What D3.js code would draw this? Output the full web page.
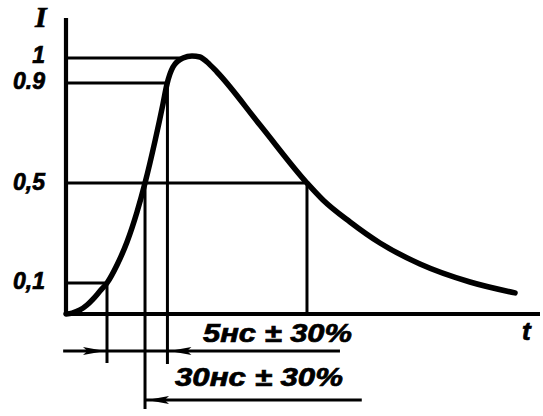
<!DOCTYPE html>
<html>
<head>
<meta charset="utf-8">
<script src="https://cdn.jsdelivr.net/npm/d3@7"></script>
<style>
  html, body { margin: 0; padding: 0; background: #fff; }
  svg { display: block; }
  text { font-family: "Liberation Sans", Arial, sans-serif; font-weight: bold; font-style: italic; fill: #000; stroke: #000; stroke-width: 0.7; }
</style>
</head>
<body>
<svg id="chart" width="543" height="416"></svg>
<script>
// ---- data (arbitrary time units, relative current I) ----
const tValues = [0, 1.27, 2.95, 4.43, 5.7, 7.17, 8.65, 10.76, 12.87, 14.98, 16.67, 18.78, 20.46, 21.31, 22.57, 24.68, 26.58, 28.27, 29.75, 31.86, 40.93, 50.84, 54.22, 59.92, 66.24, 74.68, 85.23, 94.73];
const iValues = [0, 0.003, 0.013, 0.029, 0.048, 0.074, 0.1, 0.172, 0.264, 0.384, 0.5, 0.668, 0.816, 0.896, 0.964, 1.0, 1.008, 1.004, 0.984, 0.944, 0.732, 0.5, 0.432, 0.344, 0.26, 0.176, 0.104, 0.068];
const yTickValues = [1, 0.9, 0.5, 0.1];
const yTickLabels = ["1", "0.9", "0,5", "0,1"];
// characteristic time points: crossing 0.1, 0.5 (rise), 0.9, peak, 0.5 (fall)
const t01 = 8.65, t05 = 16.67, t09 = 21.4, tPeak = 25, t05b = 50.84;
const dimLabels = ["5нс ± 30%", "30нс ± 30%"];
const axisLabels = { y: "I", x: "t" };

const svg = d3.select("#chart");
const x = d3.scaleLinear().domain([0, 100]).range([66, 540]);
const y = d3.scaleLinear().domain([0, 0.1, 1]).range([314, 283, 58]);
const yTop = 1.16;

// axes
svg.append("line").attr("x1", x(0)).attr("x2", x(0)).attr("y1", y(0) + 1).attr("y2", y(yTop))
  .attr("stroke", "#000").attr("stroke-width", 4.2);
svg.append("line").attr("x1", x(0) - 2).attr("x2", x(100)).attr("y1", y(0)).attr("y2", y(0))
  .attr("stroke", "#000").attr("stroke-width", 3.8);

const thin = (x1, y1, x2, y2) => svg.append("line")
  .attr("x1", x1).attr("y1", y1).attr("x2", x2).attr("y2", y2)
  .attr("stroke", "#000").attr("stroke-width", 3);

// horizontal level lines
thin(x(0), y(1), x(tPeak), y(1));
thin(x(0), y(0.9), x(t09), y(0.9));
thin(x(0), y(0.5), x(t05b), y(0.5));
thin(x(0), y(0.1), x(t01), y(0.1));

// vertical extension lines
const row1 = y(0) + 37, row2 = y(0) + 86;
thin(x(t01), y(0.1), x(t01), row1 + 12);
thin(x(t05), y(0.5), x(t05), row2 + 9);
thin(x(t09), y(0.9), x(t09), row1 + 13);
thin(x(t05b), y(0.5), x(t05b), y(0));

// dimension lines
thin(x(-0.6), row1, x(57.8), row1);
thin(x(t05), row2, x(62.4), row2);

// arrowheads (tip at x0, pointing in direction dir)
function arrow(x0, yy, dir) {
  const len = 22, hw = 4;
  const p = d3.path();
  p.moveTo(x0, yy);
  p.lineTo(x0 - dir * len, yy - hw);
  p.lineTo(x0 - dir * len * 0.8, yy);
  p.lineTo(x0 - dir * len, yy + hw);
  p.closePath();
  svg.append("path").attr("d", p.toString()).attr("fill", "#000");
}
arrow(x(t01) - 2, row1, 1);
arrow(x(t09) + 2, row1, -1);
arrow(x(t05) + 2, row2, -1);

// pulse curve
const pts = tValues.map((t, i) => [t, iValues[i]]);
const line = d3.line().x(d => x(d[0])).y(d => y(d[1])).curve(d3.curveMonotoneX);
svg.append("path").datum(pts).attr("d", line)
  .attr("fill", "none").attr("stroke", "#000").attr("stroke-width", 5.5)
  .attr("stroke-linecap", "round").attr("stroke-linejoin", "round");

// tick labels
const lblOffsets = [5, 6, 7, 6];
yTickValues.forEach((v, i) => {
  svg.append("text").attr("x", 45).attr("y", y(v) + lblOffsets[i])
    .attr("text-anchor", "end").attr("font-size", 23).text(yTickLabels[i]);
});

// axis labels
svg.append("text").attr("x", 35).attr("y", 27).attr("font-size", 30)
  .style("font-family", "'Liberation Serif', 'DejaVu Serif', serif").text(axisLabels.y);
svg.append("text").attr("x", 522).attr("y", 340).attr("font-size", 26).text(axisLabels.x);

// dimension labels
svg.append("text").attr("x", 203).attr("y", 342).attr("font-size", 25)
  .attr("textLength", 149).attr("lengthAdjust", "spacingAndGlyphs").text(dimLabels[0]);
svg.append("text").attr("x", 175).attr("y", 386).attr("font-size", 25)
  .attr("textLength", 168).attr("lengthAdjust", "spacingAndGlyphs").text(dimLabels[1]);
</script>
</body>
</html>
